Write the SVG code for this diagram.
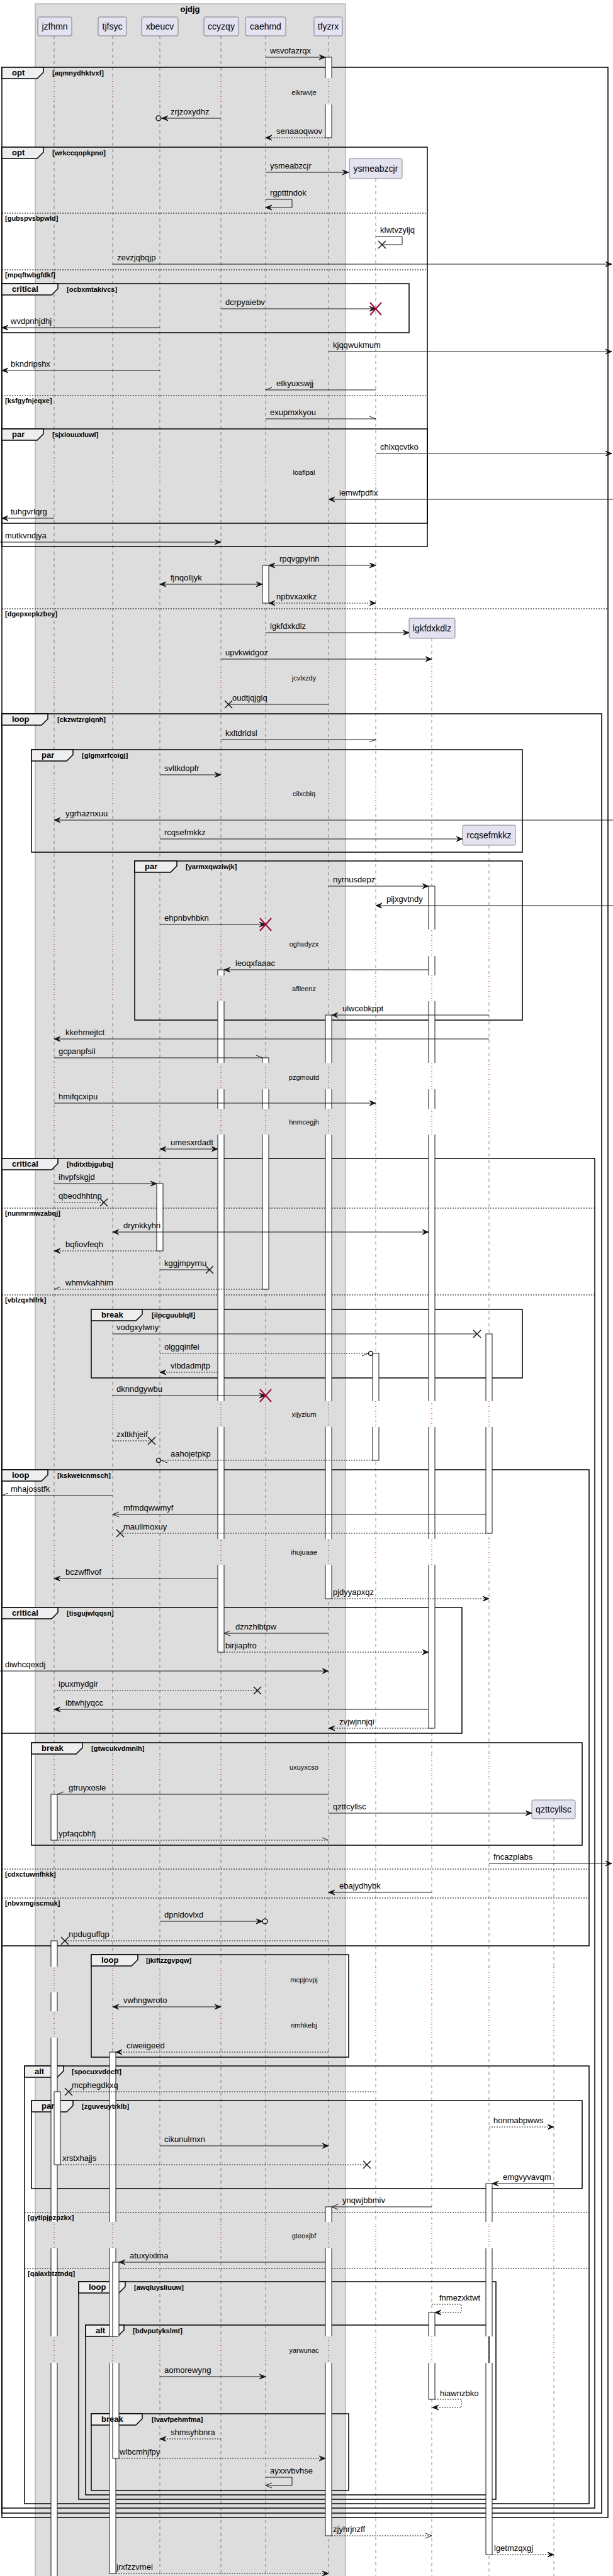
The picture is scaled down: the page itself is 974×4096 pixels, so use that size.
<svg xmlns="http://www.w3.org/2000/svg" width="974" height="4096" viewBox="0 0 974 4096">
<style>
.ll{stroke:#181818;stroke-width:0.5;stroke-dasharray:5,5;fill:none}
.dl{stroke:#A80036;stroke-width:1;stroke-dasharray:1,3;fill:none}
.act{fill:#fff;stroke:#181818;stroke-width:1}
.m{stroke:#181818;stroke-width:1;fill:none}
.dsh{stroke-dasharray:2,2}
.x{stroke:#181818;stroke-width:1.5;fill:none}
.rx{stroke:#A80036;stroke-width:2;fill:none}
.c{stroke:#181818;stroke-width:1.5;fill:none}
text{font-family:"Liberation Sans",Arial,sans-serif;fill:#000}
.t{font-size:13px}
.dt{font-size:11px;text-anchor:middle}
.pt{font-size:14px;text-anchor:middle}
.fl{font-size:13px;font-weight:bold}
.cd{font-size:11px;font-weight:bold}
.fr{fill:none;stroke:#000;stroke-width:1.5}
.tab{fill:#EEEEEE;stroke:#000;stroke-width:1.5}
.sep{stroke:#000;stroke-width:1;stroke-dasharray:2,2}
.pb{fill:#E2E2F0;stroke:#181818;stroke-width:0.5}
</style>
<defs>
<marker id="af" markerUnits="userSpaceOnUse" markerWidth="12" markerHeight="10" refX="0" refY="0" orient="auto-start-reverse" overflow="visible"><path d="M-10,-4 L0,0 L-10,4 L-6,0 Z" fill="#181818" stroke="#181818" stroke-width="1"/></marker>
<marker id="ao" markerUnits="userSpaceOnUse" markerWidth="12" markerHeight="10" refX="0" refY="0" orient="auto-start-reverse" overflow="visible"><path d="M-10,-4 L0,0 L-10,4" fill="none" stroke="#181818" stroke-width="1"/></marker>
<marker id="hu" markerUnits="userSpaceOnUse" markerWidth="12" markerHeight="10" refX="0" refY="0" orient="auto" overflow="visible"><path d="M-10,-4 L0,0" fill="none" stroke="#181818" stroke-width="1"/></marker>
<marker id="hd" markerUnits="userSpaceOnUse" markerWidth="12" markerHeight="10" refX="0" refY="0" orient="auto" overflow="visible"><path d="M-10,4 L0,0" fill="none" stroke="#181818" stroke-width="1"/></marker>
<mask id="nodelay" maskUnits="userSpaceOnUse" x="0" y="0" width="974" height="4096">
<rect x="0" y="0" width="974" height="4096" fill="#fff"/>
<g fill="#000">
<rect x="0" y="124" width="974" height="42"/><rect x="0" y="728" width="974" height="45"/><rect x="0" y="1055" width="974" height="45"/><rect x="0" y="1238" width="974" height="45"/><rect x="0" y="1478" width="974" height="42"/><rect x="0" y="1551" width="974" height="41"/><rect x="0" y="1690" width="974" height="42"/><rect x="0" y="1763" width="974" height="41"/><rect x="0" y="2228" width="974" height="41"/><rect x="0" y="2447" width="974" height="41"/><rect x="0" y="2791" width="974" height="39"/><rect x="0" y="3127" width="974" height="41"/><rect x="0" y="3198" width="974" height="42"/><rect x="0" y="3533" width="974" height="42"/><rect x="0" y="3715" width="974" height="42"/>
</g>
</mask>
<mask id="indelay" maskUnits="userSpaceOnUse" x="0" y="0" width="974" height="4096">
<g fill="#fff">
<rect x="0" y="124" width="974" height="42"/><rect x="0" y="728" width="974" height="45"/><rect x="0" y="1055" width="974" height="45"/><rect x="0" y="1238" width="974" height="45"/><rect x="0" y="1478" width="974" height="42"/><rect x="0" y="1551" width="974" height="41"/><rect x="0" y="1690" width="974" height="42"/><rect x="0" y="1763" width="974" height="41"/><rect x="0" y="2228" width="974" height="41"/><rect x="0" y="2447" width="974" height="41"/><rect x="0" y="2791" width="974" height="39"/><rect x="0" y="3127" width="974" height="41"/><rect x="0" y="3198" width="974" height="42"/><rect x="0" y="3533" width="974" height="42"/><rect x="0" y="3715" width="974" height="42"/>
</g>
</mask>
<g id="lifelinepaths">
<line x1="86" y1="57" x2="86" y2="4096"/>
<line x1="179" y1="57" x2="179" y2="4096"/>
<line x1="254" y1="57" x2="254" y2="4096"/>
<line x1="351" y1="57" x2="351" y2="4096"/>
<line x1="422" y1="57" x2="422" y2="4096"/>
<line x1="522" y1="57" x2="522" y2="4096"/>
<line x1="597" y1="284" x2="597" y2="4096"/>
<line x1="686" y1="1015" x2="686" y2="4096"/>
<line x1="777" y1="1344" x2="777" y2="4096"/>
<line x1="880" y1="2892" x2="880" y2="4096"/>
</g>
</defs>
<rect x="0" y="0" width="974" height="4096" fill="#fff"/>
<g id="box-ojdjg">
<rect x="56" y="6" width="493" height="4100" fill="#DDDDDD" stroke="#999" stroke-width="1"/>
<text class="fl" x="302" y="19" text-anchor="middle">ojdjg</text>
</g>
<g id="lifelines">
<use href="#lifelinepaths" class="ll" mask="url(#nodelay)"/>
<use href="#lifelinepaths" class="dl" mask="url(#indelay)"/>
</g>
<g id="jzfhmn"><rect class="pb" x="60" y="27" width="54" height="30" rx="2.5"/><text class="pt" x="87" y="47">jzfhmn</text></g>
<g id="tjfsyc"><rect class="pb" x="156" y="27" width="45" height="30" rx="2.5"/><text class="pt" x="178.5" y="47">tjfsyc</text></g>
<g id="xbeucv"><rect class="pb" x="225" y="27" width="58" height="30" rx="2.5"/><text class="pt" x="254" y="47">xbeucv</text></g>
<g id="ccyzqy"><rect class="pb" x="324" y="27" width="55" height="30" rx="2.5"/><text class="pt" x="351.5" y="47">ccyzqy</text></g>
<g id="caehmd"><rect class="pb" x="390" y="27" width="64" height="30" rx="2.5"/><text class="pt" x="422" y="47">caehmd</text></g>
<g id="tfyzrx"><rect class="pb" x="499" y="27" width="45" height="30" rx="2.5"/><text class="pt" x="521.5" y="47">tfyzrx</text></g>
<g id="ysmeabzcjr"><rect class="pb" x="555" y="252" width="84" height="32" rx="2.5"/><text class="pt" x="597" y="273">ysmeabzcjr</text></g>
<g id="lgkfdxkdlz"><rect class="pb" x="650" y="983" width="73" height="32" rx="2.5"/><text class="pt" x="686.5" y="1004">lgkfdxkdlz</text></g>
<g id="rcqsefmkkz"><rect class="pb" x="735" y="1312" width="84" height="32" rx="2.5"/><text class="pt" x="777" y="1333">rcqsefmkkz</text></g>
<g id="qzttcyllsc"><rect class="pb" x="845" y="2862" width="69" height="30" rx="2.5"/><text class="pt" x="879.5" y="2882">qzttcyllsc</text></g>
<g id="frames">
<rect class="fr" x="3" y="107" width="963" height="3896"/><polygon class="tab" points="3,107 69,107 69,115 59,125 3,125"/>
<line class="sep" x1="3" y1="968" x2="966" y2="968"/>
<rect class="fr" x="3" y="234" width="676" height="635"/><polygon class="tab" points="3,234 69,234 69,242 59,252 3,252"/>
<line class="sep" x1="3" y1="339" x2="679" y2="339"/>
<line class="sep" x1="3" y1="429" x2="679" y2="429"/>
<line class="sep" x1="3" y1="629" x2="679" y2="629"/>
<rect class="fr" x="3" y="451" width="647" height="78"/><polygon class="tab" points="3,451 92,451 92,459 82,469 3,469"/>
<rect class="fr" x="3" y="682" width="676" height="150"/><polygon class="tab" points="3,682 69,682 69,690 59,700 3,700"/>
<rect class="fr" x="3" y="1135" width="953" height="2861"/><polygon class="tab" points="3,1135 76,1135 76,1143 66,1153 3,1153"/>
<rect class="fr" x="50" y="1192" width="780" height="163"/><polygon class="tab" points="50,1192 116,1192 116,1200 106,1210 50,1210"/>
<rect class="fr" x="214" y="1369" width="616" height="253"/><polygon class="tab" points="214,1369 281,1369 281,1377 271,1387 214,1387"/>
<rect class="fr" x="3" y="1842" width="942" height="2146"/><polygon class="tab" points="3,1842 92,1842 92,1850 82,1860 3,1860"/>
<line class="sep" x1="3" y1="1921" x2="945" y2="1921"/>
<line class="sep" x1="3" y1="2059" x2="945" y2="2059"/>
<rect class="fr" x="145" y="2082" width="685" height="109"/><polygon class="tab" points="145,2082 226,2082 226,2090 216,2100 145,2100"/>
<rect class="fr" x="3" y="2337" width="933" height="757"/><polygon class="tab" points="3,2337 76,2337 76,2345 66,2355 3,2355"/>
<line class="sep" x1="3" y1="2972" x2="936" y2="2972"/>
<line class="sep" x1="3" y1="3018" x2="936" y2="3018"/>
<rect class="fr" x="3" y="2556" width="731" height="200"/><polygon class="tab" points="3,2556 92,2556 92,2564 82,2574 3,2574"/>
<rect class="fr" x="50" y="2771" width="875" height="163"/><polygon class="tab" points="50,2771 131,2771 131,2779 121,2789 50,2789"/>
<rect class="fr" x="145" y="3108" width="409" height="163"/><polygon class="tab" points="145,3108 219,3108 219,3116 209,3126 145,3126"/>
<rect class="fr" x="39" y="3285" width="897" height="696"/><polygon class="tab" points="39,3285 101,3285 101,3293 91,3303 39,3303"/>
<line class="sep" x1="39" y1="3518" x2="936" y2="3518"/>
<line class="sep" x1="39" y1="3607" x2="936" y2="3607"/>
<rect class="fr" x="50" y="3340" width="875" height="140"/><polygon class="tab" points="50,3340 116,3340 116,3348 106,3358 50,3358"/>
<rect class="fr" x="125" y="3628" width="663" height="346"/><polygon class="tab" points="125,3628 199,3628 199,3636 189,3646 125,3646"/>
<rect class="fr" x="136" y="3697" width="641" height="270"/><polygon class="tab" points="136,3697 197,3697 197,3705 187,3715 136,3715"/>
<rect class="fr" x="145" y="3838" width="409" height="122"/><polygon class="tab" points="145,3838 226,3838 226,3846 216,3856 145,3856"/>
</g>
<g id="activations" mask="url(#nodelay)">
<rect class="act" x="517" y="91" width="10" height="128"/>
<rect class="act" x="417" y="899" width="10" height="60"/>
<rect class="act" x="681" y="1409" width="10" height="1339"/>
<rect class="act" x="346" y="1542" width="10" height="1085"/>
<rect class="act" x="517" y="1614" width="10" height="928"/>
<rect class="act" x="417" y="1682" width="10" height="368"/>
<rect class="act" x="249" y="1882" width="10" height="107"/>
<rect class="act" x="772" y="2121" width="10" height="317"/>
<rect class="act" x="592" y="2152" width="10" height="170"/>
<rect class="act" x="81" y="2853" width="10" height="73"/>
<rect class="act" x="81" y="3086" width="10" height="1020"/>
<rect class="act" x="174" y="3263" width="10" height="829"/>
<rect class="act" x="86" y="3326" width="10" height="116"/>
<rect class="act" x="772" y="3472" width="10" height="590"/>
<rect class="act" x="517" y="3509" width="10" height="523"/>
<rect class="act" x="179" y="3597" width="10" height="312"/>
<rect class="act" x="681" y="3677" width="10" height="138"/>
</g>
<g id="frame-labels">
<text class="fl" x="19" y="120">opt</text><text class="cd" x="83" y="120">[aqmnydhktvxf]</text>
<text class="cd" x="8" y="980">[dgepxepkzbey]</text>
<text class="fl" x="19" y="247">opt</text><text class="cd" x="83" y="247">[wrkccqopkpno]</text>
<text class="cd" x="8" y="351">[gubspvsbpwld]</text>
<text class="cd" x="8" y="441">[mpqftwbgfdkf]</text>
<text class="cd" x="8" y="641">[ksfgyfnjeqxe]</text>
<text class="fl" x="19" y="464">critical</text><text class="cd" x="106" y="464">[ocbxmtakivcs]</text>
<text class="fl" x="19" y="695">par</text><text class="cd" x="83" y="695">[sjxiouuxluwl]</text>
<text class="fl" x="19" y="1148">loop</text><text class="cd" x="91" y="1148">[ckzwtzrgiqnh]</text>
<text class="fl" x="66" y="1205">par</text><text class="cd" x="130" y="1205">[glgmxrfcoigj]</text>
<text class="fl" x="230" y="1382">par</text><text class="cd" x="295" y="1382">[yarmxqwziwjk]</text>
<text class="fl" x="19" y="1855">critical</text><text class="cd" x="106" y="1855">[hditxtbjgubq]</text>
<text class="cd" x="8" y="1933">[nunmrmwzabqj]</text>
<text class="cd" x="8" y="2071">[vblzqxhlfrk]</text>
<text class="fl" x="161" y="2095">break</text><text class="cd" x="241" y="2095">[ilpcguublqll]</text>
<text class="fl" x="19" y="2350">loop</text><text class="cd" x="91" y="2350">[kskweicnmsch]</text>
<text class="cd" x="8" y="2984">[cdxctuwnfhkk]</text>
<text class="cd" x="8" y="3030">[nbvxmgiscmuk]</text>
<text class="fl" x="19" y="2569">critical</text><text class="cd" x="106" y="2569">[tisgujwlqqsn]</text>
<text class="fl" x="66" y="2784">break</text><text class="cd" x="145" y="2784">[gtwcukvdmnlh]</text>
<text class="fl" x="161" y="3121">loop</text><text class="cd" x="232" y="3121">[jkiflzzgvpqw]</text>
<text class="fl" x="55" y="3298">alt</text><text class="cd" x="114" y="3298">[spocuxvdocft]</text>
<text class="cd" x="44" y="3530">[gytipjpzpzkx]</text>
<text class="cd" x="44" y="3619">[qaiaxbtztndq]</text>
<text class="fl" x="66" y="3353">par</text><text class="cd" x="130" y="3353">[zguveuytrklb]</text>
<text class="fl" x="141" y="3641">loop</text><text class="cd" x="213" y="3641">[awqluysliuuw]</text>
<text class="fl" x="152" y="3710">alt</text><text class="cd" x="211" y="3710">[bdvputykslmt]</text>
<text class="fl" x="161" y="3851">break</text><text class="cd" x="241" y="3851">[lvavfpehmfma]</text>
</g>
<g id="delays">
<text class="dt" x="483" y="151">elkrwvje</text>
<text class="dt" x="483" y="755">loaflpal</text>
<text class="dt" x="483" y="1082">jcvlxzdy</text>
<text class="dt" x="483" y="1266">cilxcblq</text>
<text class="dt" x="483" y="1505">oghsdyzx</text>
<text class="dt" x="483" y="1576">aflleenz</text>
<text class="dt" x="483" y="1717">pzgmoutd</text>
<text class="dt" x="483" y="1788">hnmcegjh</text>
<text class="dt" x="483" y="2253">xijyzium</text>
<text class="dt" x="483" y="2472">ihujuaae</text>
<text class="dt" x="483" y="2814">uxuyxcso</text>
<text class="dt" x="483" y="3152">mcpjnvpj</text>
<text class="dt" x="483" y="3224">rimhkebj</text>
<text class="dt" x="483" y="3559">gteoxjbf</text>
<text class="dt" x="483" y="3741">yarwunac</text>
</g>
<g id="connectors">
<line class="m" x1="422" y1="91" x2="517" y2="91" marker-end="url(#af)"/><text class="t" x="429" y="85">wsvofazrqx</text>
<line class="m" x1="351" y1="188" x2="257" y2="188" marker-end="url(#af)"/><circle class="c" cx="252" cy="188" r="4"/><text class="t" x="271" y="182">zrjzoxydhz</text>
<line class="m dsh" x1="517" y1="219" x2="422" y2="219" marker-end="url(#af)"/><text class="t" x="439" y="213">senaaoqwov</text>
<line class="m" x1="422" y1="274" x2="554" y2="274" marker-end="url(#af)"/><text class="t" x="429" y="268">ysmeabzcjr</text>
<path class="m" d="M422,317 H464 V330 H422" marker-end="url(#af)"/><text class="t" x="429" y="311">rgptttndok</text>
<path class="m" d="M597,376 H639 V389 H607"/><path class="x" d="M601,383 L613,395 M613,383 L601,395"/><text class="t" x="604" y="370">klwtvzyijq</text>
<line class="m" x1="179" y1="420" x2="972" y2="420" marker-end="url(#af)"/><text class="t" x="186" y="414">zevzjqbqjp</text>
<line class="m" x1="351" y1="491" x2="597" y2="491" marker-end="url(#af)"/><path class="rx" d="M588,481 L606,501 M606,481 L588,501"/><text class="t" x="358" y="485">dcrpyaiebv</text>
<line class="m" x1="254" y1="521" x2="3" y2="521" marker-end="url(#af)"/><text class="t" x="17" y="515">wvdpnhjdhj</text>
<line class="m" x1="522" y1="559" x2="972" y2="559" marker-end="url(#af)"/><text class="t" x="529" y="553">kjqqwukmum</text>
<line class="m" x1="254" y1="589" x2="3" y2="589" marker-end="url(#af)"/><text class="t" x="17" y="583">bkndripshx</text>
<line class="m" x1="597" y1="620" x2="422" y2="620" marker-end="url(#hd)"/><text class="t" x="439" y="614">etkyuxswjj</text>
<line class="m" x1="422" y1="666" x2="597" y2="666" marker-end="url(#hu)"/><text class="t" x="429" y="660">exupmxkyou</text>
<line class="m" x1="597" y1="721" x2="972" y2="721" marker-end="url(#af)"/><text class="t" x="604" y="715">chlxqcvtko</text>
<line class="m" x1="974" y1="794" x2="522" y2="794" marker-end="url(#af)"/><text class="t" x="539" y="788">iemwfpdfix</text>
<line class="m" x1="86" y1="824" x2="3" y2="824" marker-end="url(#af)"/><text class="t" x="17" y="818">tuhgvrlqrg</text>
<line class="m" x1="0" y1="862" x2="351" y2="862" marker-end="url(#af)"/><text class="t" x="8" y="856">mutkvndjya</text>
<line class="m" x1="427" y1="899" x2="597" y2="899" marker-start="url(#af)" marker-end="url(#af)"/><text class="t" x="444" y="893">rpqvgpylnh</text>
<line class="m" x1="254" y1="929" x2="417" y2="929" marker-start="url(#af)" marker-end="url(#af)"/><text class="t" x="271" y="923">fjnqolljyk</text>
<line class="m dsh" x1="427" y1="959" x2="597" y2="959" marker-start="url(#af)" marker-end="url(#af)"/><text class="t" x="439" y="953">npbvxaxikz</text>
<line class="m" x1="422" y1="1006" x2="650" y2="1006" marker-end="url(#af)"/><text class="t" x="429" y="1000">lgkfdxkdlz</text>
<line class="m" x1="351" y1="1048" x2="686" y2="1048" marker-end="url(#af)"/><text class="t" x="358" y="1042">upvkwidgoz</text>
<line class="m" x1="522" y1="1120" x2="363" y2="1120"/><path class="x" d="M357,1114 L369,1126 M369,1114 L357,1126"/><text class="t" x="369" y="1114">oudtjqjglq</text>
<line class="m" x1="351" y1="1176" x2="597" y2="1176" marker-end="url(#hd)"/><text class="t" x="358" y="1170">kxltdridsl</text>
<line class="m" x1="254" y1="1232" x2="351" y2="1232" marker-end="url(#af)"/><text class="t" x="261" y="1226">svltkdopfr</text>
<line class="m" x1="974" y1="1304" x2="86" y2="1304" marker-end="url(#af)"/><text class="t" x="104" y="1298">ygrhaznxuu</text>
<line class="m" x1="254" y1="1334" x2="735" y2="1334" marker-end="url(#af)"/><text class="t" x="261" y="1328">rcqsefmkkz</text>
<line class="m" x1="522" y1="1409" x2="681" y2="1409" marker-end="url(#af)"/><text class="t" x="529" y="1403">nyrnusdepz</text>
<line class="m" x1="974" y1="1440" x2="597" y2="1440" marker-end="url(#af)"/><text class="t" x="614" y="1434">pijxgvtndy</text>
<line class="m" x1="254" y1="1470" x2="422" y2="1470" marker-end="url(#af)"/><path class="rx" d="M413,1460 L431,1480 M431,1460 L413,1480"/><text class="t" x="261" y="1464">ehpnbvhbkn</text>
<line class="m" x1="681" y1="1542" x2="356" y2="1542" marker-end="url(#af)"/><text class="t" x="374" y="1536">leoqxfaaac</text>
<line class="m" x1="777" y1="1614" x2="527" y2="1614" marker-end="url(#af)"/><text class="t" x="544" y="1608">ulwcebkppt</text>
<line class="m" x1="777" y1="1652" x2="86" y2="1652" marker-end="url(#af)"/><text class="t" x="104" y="1646">kkehmejtct</text>
<line class="m" x1="86" y1="1682" x2="417" y2="1682" marker-end="url(#hu)"/><text class="t" x="93" y="1676">gcpanpfsil</text>
<line class="m" x1="86" y1="1754" x2="597" y2="1754" marker-end="url(#af)"/><text class="t" x="93" y="1748">hmifqcxipu</text>
<line class="m" x1="254" y1="1827" x2="346" y2="1827" marker-start="url(#af)" marker-end="url(#af)"/><text class="t" x="271" y="1821">umesxrdadt</text>
<line class="m" x1="86" y1="1882" x2="249" y2="1882" marker-end="url(#af)"/><text class="t" x="93" y="1876">ihvpfskgjd</text>
<line class="m dsh" x1="86" y1="1912" x2="165" y2="1912"/><path class="x" d="M159,1906 L171,1918 M171,1906 L159,1918"/><text class="t" x="93" y="1906">qbeodhhtnp</text>
<line class="m" x1="179" y1="1959" x2="681" y2="1959" marker-start="url(#af)" marker-end="url(#af)"/><text class="t" x="196" y="1953">drynkkyhri</text>
<line class="m dsh" x1="249" y1="1989" x2="86" y2="1989" marker-end="url(#af)"/><text class="t" x="104" y="1983">bqfiovfeqh</text>
<line class="m" x1="254" y1="2019" x2="333" y2="2019"/><path class="x" d="M327,2013 L339,2025 M339,2013 L327,2025"/><text class="t" x="261" y="2013">kggjmpyrnu</text>
<line class="m dsh" x1="417" y1="2050" x2="86" y2="2050" marker-end="url(#hd)"/><text class="t" x="104" y="2044">whmvkahhim</text>
<line class="m" x1="179" y1="2121" x2="758" y2="2121"/><path class="x" d="M752,2115 L764,2127 M764,2115 L752,2127"/><text class="t" x="185" y="2115">vodgxylwny</text>
<line class="m dsh" x1="254" y1="2152" x2="585" y2="2152" marker-end="url(#hd)"/><circle class="c" cx="589" cy="2152" r="3.5"/><text class="t" x="261" y="2146">olggqinfei</text>
<line class="m dsh" x1="346" y1="2182" x2="254" y2="2182" marker-end="url(#af)"/><text class="t" x="271" y="2176">vlbdadmjtp</text>
<line class="m" x1="179" y1="2219" x2="422" y2="2219" marker-end="url(#af)"/><path class="rx" d="M413,2209 L431,2229 M431,2209 L413,2229"/><text class="t" x="185" y="2213">dknndgywbu</text>
<line class="m dsh" x1="179" y1="2291" x2="241" y2="2291"/><path class="x" d="M235,2285 L247,2297 M247,2285 L235,2297"/><text class="t" x="185" y="2285">zxltkhjeif</text>
<line class="m dsh" x1="592" y1="2322" x2="256" y2="2322" marker-end="url(#hu)"/><circle class="c" cx="252" cy="2322" r="3.5"/><text class="t" x="271" y="2316">aahojetpkp</text>
<line class="m" x1="179" y1="2378" x2="3" y2="2378" marker-end="url(#hd)"/><text class="t" x="17" y="2372">mhajosstfk</text>
<line class="m" x1="772" y1="2408" x2="179" y2="2408" marker-end="url(#ao)"/><text class="t" x="196" y="2402">mfmdqwwmyf</text>
<line class="m dsh" x1="772" y1="2438" x2="191" y2="2438"/><path class="x" d="M185,2432 L197,2444 M197,2432 L185,2444"/><text class="t" x="196" y="2432">maullmoxuy</text>
<line class="m" x1="346" y1="2510" x2="86" y2="2510" marker-end="url(#af)"/><text class="t" x="104" y="2504">bczwfflvof</text>
<line class="m dsh" x1="527" y1="2542" x2="777" y2="2542" marker-end="url(#af)"/><text class="t" x="529" y="2536">pjdyyapxqz</text>
<line class="m" x1="522" y1="2597" x2="356" y2="2597" marker-end="url(#ao)"/><text class="t" x="374" y="2591">dznzhlbtpw</text>
<line class="m dsh" x1="356" y1="2627" x2="681" y2="2627" marker-end="url(#af)"/><text class="t" x="358" y="2621">birjiapfro</text>
<line class="m" x1="0" y1="2657" x2="522" y2="2657" marker-end="url(#af)"/><text class="t" x="8" y="2651">diwhcqexdj</text>
<line class="m dsh" x1="86" y1="2688" x2="409" y2="2688"/><path class="x" d="M403,2682 L415,2694 M415,2682 L403,2694"/><text class="t" x="93" y="2682">ipuxmydgir</text>
<line class="m" x1="681" y1="2718" x2="86" y2="2718" marker-end="url(#af)"/><text class="t" x="104" y="2712">ibtwhjyqcc</text>
<line class="m dsh" x1="681" y1="2748" x2="522" y2="2748" marker-end="url(#af)"/><text class="t" x="539" y="2742">zvjwjnnjqi</text>
<line class="m" x1="522" y1="2853" x2="91" y2="2853" marker-end="url(#hd)"/><text class="t" x="109" y="2847">gtruyxosle</text>
<line class="m" x1="522" y1="2883" x2="845" y2="2883" marker-end="url(#af)"/><text class="t" x="529" y="2877">qzttcyllsc</text>
<line class="m dsh" x1="91" y1="2926" x2="522" y2="2926" marker-end="url(#hu)"/><text class="t" x="93" y="2920">ypfaqcbhfj</text>
<line class="m" x1="777" y1="2963" x2="972" y2="2963" marker-end="url(#af)"/><text class="t" x="784" y="2957">fncazplabs</text>
<line class="m" x1="686" y1="3009" x2="522" y2="3009" marker-end="url(#af)"/><text class="t" x="539" y="3003">ebajydhybk</text>
<line class="m" x1="254" y1="3055" x2="417" y2="3055" marker-end="url(#af)"/><circle class="c" cx="421" cy="3055" r="4"/><text class="t" x="261" y="3049">dpnldovlxd</text>
<line class="m dsh" x1="522" y1="3086" x2="103" y2="3086"/><path class="x" d="M97,3080 L109,3092 M109,3080 L97,3092"/><text class="t" x="109" y="3080">npduguffqp</text>
<line class="m" x1="179" y1="3191" x2="351" y2="3191" marker-start="url(#af)" marker-end="url(#af)"/><text class="t" x="196" y="3185">vwhngwroto</text>
<line class="m dsh" x1="522" y1="3263" x2="184" y2="3263" marker-end="url(#af)"/><text class="t" x="201" y="3257">ciweiigeed</text>
<line class="m dsh" x1="594" y1="3326" x2="109" y2="3326"/><path class="x" d="M103,3320 L115,3332 M115,3320 L103,3332"/><text class="t" x="114" y="3320">mcphegdkxq</text>
<line class="m dsh" x1="777" y1="3382" x2="880" y2="3382" marker-end="url(#af)"/><text class="t" x="784" y="3376">honmabpwws</text>
<line class="m" x1="254" y1="3412" x2="522" y2="3412" marker-end="url(#af)"/><text class="t" x="261" y="3406">cikunulmxn</text>
<line class="m dsh" x1="96" y1="3442" x2="583" y2="3442"/><path class="x" d="M577,3436 L589,3448 M589,3436 L577,3448"/><text class="t" x="99" y="3436">xrstxhajjs</text>
<line class="m" x1="880" y1="3472" x2="782" y2="3472" marker-end="url(#af)"/><text class="t" x="799" y="3466">emgvyvavqm</text>
<line class="m" x1="686" y1="3509" x2="527" y2="3509" marker-end="url(#ao)"/><text class="t" x="544" y="3503">ynqwjbbmiv</text>
<line class="m" x1="517" y1="3597" x2="189" y2="3597" marker-end="url(#af)"/><text class="t" x="206" y="3591">atuxyixlma</text>
<path class="m dsh" d="M686,3664 H733 V3677 H691" marker-end="url(#af)"/><text class="t" x="698" y="3658">fnmezxktwt</text>
<line class="m" x1="254" y1="3779" x2="422" y2="3779" marker-end="url(#af)"/><text class="t" x="261" y="3773">aomorewyng</text>
<path class="m dsh" d="M691,3815 H733 V3828 H687" marker-end="url(#af)"/><text class="t" x="699" y="3810">hiawnzbko</text>
<line class="m dsh" x1="351" y1="3878" x2="254" y2="3878" marker-end="url(#af)"/><text class="t" x="271" y="3872">shmsyhbnra</text>
<line class="m dsh" x1="189" y1="3909" x2="517" y2="3909" marker-end="url(#af)"/><text class="t" x="190" y="3903">wlbcmhjfpy</text>
<path class="m" d="M422,3939 H464 V3952 H422" marker-end="url(#ao)"/><text class="t" x="429" y="3933">ayxxvbvhse</text>
<line class="m dsh" x1="527" y1="4032" x2="686" y2="4032" marker-end="url(#ao)"/><text class="t" x="529" y="4026">zjyhrjnzff</text>
<line class="m dsh" x1="782" y1="4062" x2="880" y2="4062" marker-end="url(#af)"/><text class="t" x="785" y="4056">lgetmzqxgj</text>
<line class="m dsh" x1="184" y1="4092" x2="522" y2="4092" marker-end="url(#af)"/><text class="t" x="185" y="4086">jrxfzzvmei</text>
</g>
</svg>
